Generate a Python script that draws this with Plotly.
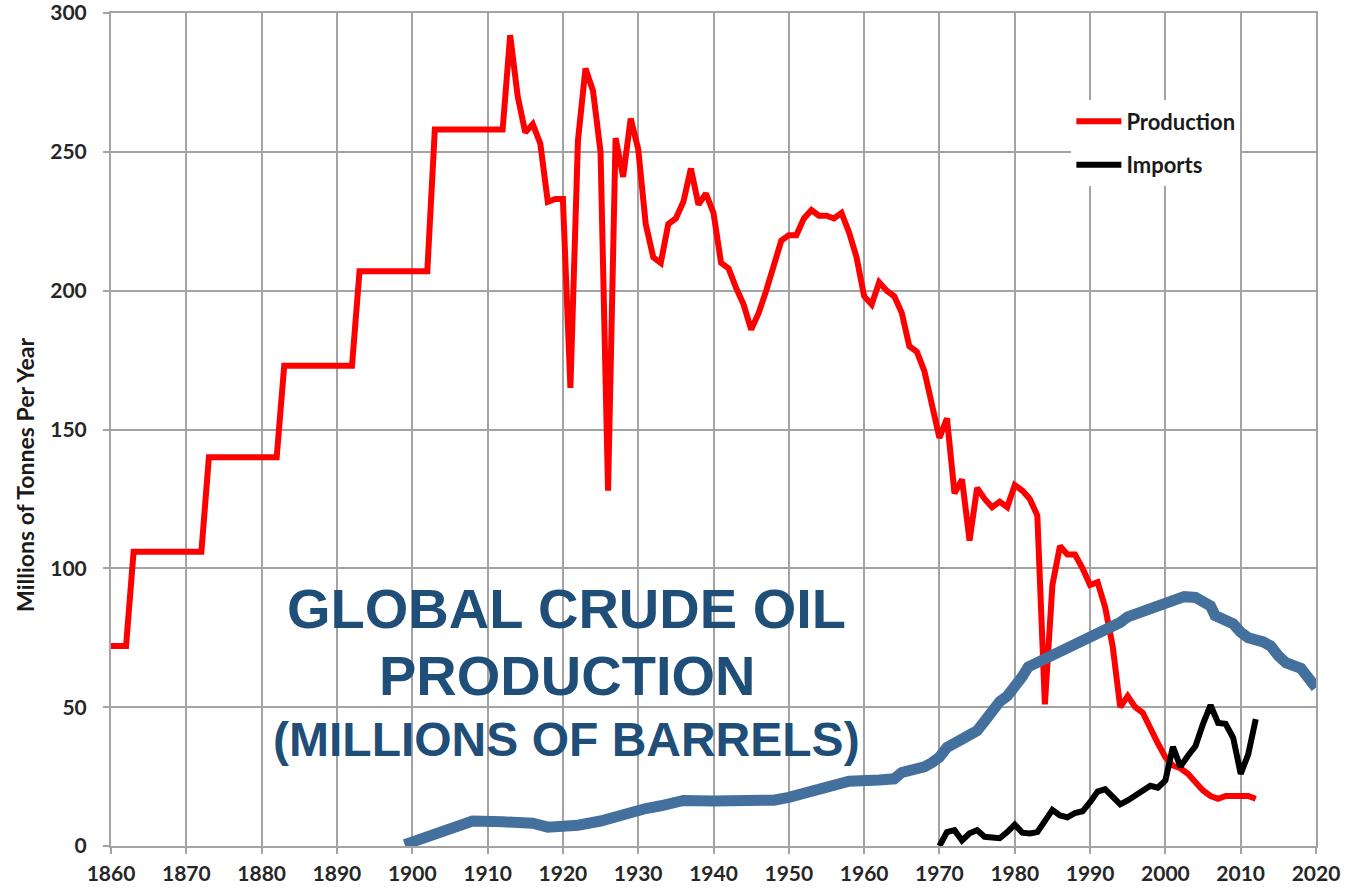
import plotly.graph_objects as go

# ---------------- data ----------------
prod_years = list(range(1860, 2013))
prod_values = [
    72, 72, 72,                                   # 1860-1862
    106, 106, 106, 106, 106, 106, 106, 106, 106, 106,   # 1863-1872
    140, 140, 140, 140, 140, 140, 140, 140, 140, 140,   # 1873-1882
    173, 173, 173, 173, 173, 173, 173, 173, 173, 173,   # 1883-1892
    207, 207, 207, 207, 207, 207, 207, 207, 207, 207,   # 1893-1902
    258, 258, 258, 258, 258, 258, 258, 258, 258, 258,   # 1903-1912
    292, 270, 257, 260, 253, 232, 233, 233,             # 1913-1920
    165, 254, 280, 272, 250, 128, 255, 241, 262, 251,   # 1921-1930
    224, 212, 210, 224, 226, 232, 244, 231, 235, 228,   # 1931-1940
    210, 208, 201, 195, 186, 192, 200, 209, 218, 220,   # 1941-1950
    220, 226, 229, 227, 227, 226, 228, 221, 212, 198,   # 1951-1960
    195, 203, 200, 198, 192, 180, 178, 171, 159, 147,   # 1961-1970
    154, 127, 132, 110, 129, 125, 122, 124, 122, 130,   # 1971-1980
    128, 125, 119, 51, 94, 108, 105, 105, 100, 94,      # 1981-1990
    95, 86, 72, 50, 54, 50, 48, 42, 37, 32,             # 1991-2000
    29, 28, 26, 23, 20, 18, 17, 18, 18, 18,             # 2001-2010
    18, 17,                                             # 2011-2012
]

imp_years = list(range(1970, 2013))
imp_values = [
    0, 5, 5.7, 2, 4.6, 5.7, 3.3, 2.8, 2.8, 5,          # 1970-1979
    7.7, 4.8, 4.5, 5, 9.2, 13, 11, 10.3, 11.9, 12.5,   # 1980-1989
    15.8, 19.6, 20.5, 18, 15, 16.4, 18, 19.8, 21.7, 21,  # 1990-1999
    23.6, 35.7, 28.6, 32.5, 36, 44, 50.7, 44.3, 44, 39,  # 2000-2009
    26, 33, 45.7,                                      # 2010-2012
]

global_years = [
    1899, 1902, 1905, 1908, 1912, 1916, 1918, 1920, 1922, 1925,
    1928, 1931, 1933, 1936, 1940, 1944, 1948, 1950, 1952, 1954,
    1956, 1958, 1962, 1964, 1965, 1967, 1968, 1969, 1970, 1971,
    1972, 1973, 1974, 1975, 1976, 1977, 1978, 1979, 1980, 1981,
    1981.8, 1983, 1985, 1987, 1989, 1990, 1992, 1994, 1995, 1997,
    1999, 2000, 2001, 2002.5, 2004, 2005, 2006, 2006.6, 2008, 2009,
    2010, 2011, 2013, 2014, 2015, 2016, 2018, 2018.7, 2020,
]
global_values = [
    0.5, 3.5, 6.5, 9, 8.7, 8.2, 6.8, 7, 7.5, 9,
    11.5, 13.5, 14.5, 16.4, 16.2, 16.0, 16.5, 17.5, 19, 20.5,
    22.5, 23.3, 23.8, 24.2, 26.5, 27.5, 28.5, 30, 32, 35.5,
    36.5, 38.5, 40, 41.5, 45, 49, 52, 54, 57, 61,
    64.5, 66, 69, 71.5, 73.5, 75, 77.5, 80.5, 82.5, 84.5,
    86, 87, 88.5, 89.8, 89.5, 88.5, 86.5, 83, 81.5, 80,
    77, 75, 73.5, 72, 68.5, 66, 64, 61, 57,
]

x_ticks = list(range(1860, 2021, 10))
y_ticks = list(range(0, 301, 50))

# ---------------- figure ----------------
BASE_FONT = "Lato, 'Open Sans', sans-serif"
TICK_FONT = dict(family=BASE_FONT, size=21, color="#262626", weight="bold")
GRID = "#A3A3A3"

fig = go.Figure()
fig.add_trace(go.Scatter(
    x=prod_years, y=prod_values, mode="lines", name="Production",
    legendgroup="p", line=dict(color="#FF0000", width=6),
))
fig.add_trace(go.Scatter(
    x=imp_years, y=imp_values, mode="lines", name="Imports",
    legendgroup="i", line=dict(color="#000000", width=6),
))
fig.add_trace(go.Scatter(
    x=global_years, y=global_values, mode="lines", name="Global crude oil production",
    showlegend=False, line=dict(color="#44709D", width=11),
))

fig.update_layout(
    width=1345, height=894,
    margin=dict(l=111, r=29, t=13, b=48),
    paper_bgcolor="white", plot_bgcolor="white",
    showlegend=True,
    legend=dict(
        x=0.797, y=0.895, xanchor="left", yanchor="top",
        bgcolor="white", borderwidth=0,
        font=dict(family=BASE_FONT, size=22, color="#1a1a1a", weight="bold"),
        tracegroupgap=12, itemwidth=45,
    ),
    xaxis=dict(
        range=[1860, 2020], tickvals=x_ticks, ticktext=[str(v) for v in x_ticks],
        showgrid=True, gridcolor=GRID, gridwidth=2,
        showline=True, linecolor=GRID, linewidth=2, mirror=True,
        ticks="outside", ticklen=6, tickwidth=2, tickcolor=GRID,
        tickfont=TICK_FONT, zeroline=False, ticklabelstandoff=2,
        ticklabeloverflow="allow", automargin=False,
    ),
    yaxis=dict(
        range=[0, 300], tickvals=y_ticks, ticktext=[str(v) for v in y_ticks],
        showgrid=True, gridcolor=GRID, gridwidth=2,
        showline=True, linecolor=GRID, linewidth=2, mirror=True,
        ticks="outside", ticklen=6, tickwidth=2, tickcolor=GRID,
        tickfont=TICK_FONT, zeroline=False, ticklabelstandoff=12,
        ticklabeloverflow="allow", automargin=False,
    ),
)

fig.add_annotation(
    text="Millions of Tonnes Per Year", textangle=-90,
    xref="paper", yref="paper", x=-0.071, y=0.446,
    xanchor="center", yanchor="middle", showarrow=False,
    font=dict(family=BASE_FONT, size=23, color="#1a1a1a", weight="bold"),
)

TITLE_FONT = "'Liberation Sans', Arial, sans-serif"
TITLE_COLOR = "#1F4E79"
for txt, yv, sz in [("GLOBAL CRUDE OIL", 85.6, 56),
                    ("PRODUCTION", 61.5, 56),
                    ("(MILLIONS OF BARRELS)", 38.3, 48)]:
    fig.add_annotation(
        text=txt, xref="x", yref="y", x=1920.5, y=yv,
        xanchor="center", yanchor="middle", showarrow=False,
        font=dict(family=TITLE_FONT, size=sz, color=TITLE_COLOR, weight="bold"),
    )

fig.write_html(
    "out.html",
    config={"displayModeBar": False},
    post_script="document.body.style.margin='0px';",
)
